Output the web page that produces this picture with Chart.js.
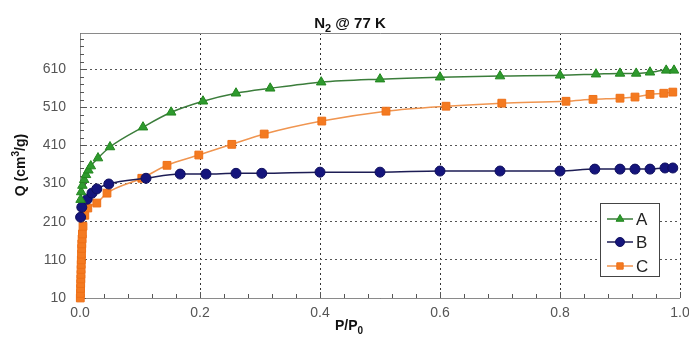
<!DOCTYPE html>
<html>
<head>
<meta charset="utf-8">
<script src="https://cdn.jsdelivr.net/npm/chart.js@4/dist/chart.umd.min.js"></script>
<style>
html,body{margin:0;padding:0;background:#fff;}
#wrap{width:689px;height:338px;position:relative;}
</style>
</head>
<body>
<div id="wrap"><canvas id="c" width="689" height="338"></canvas></div>
<script>
// ---- data ----
const seriesLabels = ['A', 'B', 'C'];
const pressureA = [0.001,0.002,0.004,0.007,0.010,0.014,0.018,0.030,0.050,0.105,0.152,0.205,0.260,0.317,0.402,0.500,0.600,0.700,0.800,0.860,0.900,0.927,0.950,0.977,0.990];
const uptakeA   = [268,288,305,320,333,345,356,377,406,458,497,526,547,560,576,584,589,592,594,597,599,599,602,607,607];
const pressureB = [0.001,0.003,0.012,0.020,0.028,0.048,0.110,0.167,0.210,0.260,0.303,0.400,0.500,0.600,0.700,0.800,0.858,0.900,0.925,0.950,0.975,0.988];
const uptakeB   = [222,248,269,285,296,309,324,335,335,337,337,340,340,343,343,343,348,348,348,348,351,351];
const pressureC = [0.0005,0.0008,0.001,0.0012,0.0014,0.0016,0.0018,0.002,0.0022,0.0025,0.0028,0.003,0.0035,0.004,0.005,0.008,0.013,0.028,0.045,0.103,0.145,0.198,0.253,0.307,0.403,0.510,0.610,0.703,0.810,0.855,0.900,0.925,0.950,0.973,0.988];
const uptakeC   = [10,22,35,48,60,72,85,98,110,125,140,152,165,178,198,227,246,259,285,324,358,385,413,440,474,500,513,521,526,531,534,537,544,547,550];
const xTickValues = [0, 0.2, 0.4, 0.6, 0.8, 1.0];
const yTickValues = [10, 110, 210, 310, 410, 510, 610];

const toPts = (xs, ys) => xs.map((v, i) => ({x: v, y: ys[i]}));

const styles = [
  {line:'#3b7d3b', fill:'#2e9a2e', edge:'#23861f', shape:'triangle', r:5.5},
  {line:'#1d1d55', fill:'#15157c', edge:'#10105e', shape:'circle', r:5},
  {line:'#f09550', fill:'#f47a20', edge:'#ee7018', shape:'rect', r:5.5}
];
const seriesData = [toPts(pressureA, uptakeA), toPts(pressureB, uptakeB), toPts(pressureC, uptakeC)];

const datasets = seriesLabels.map((lab, i) => ({
  label: lab,
  data: seriesData[i],
  borderColor: styles[i].line,
  borderWidth: 1.5,
  pointStyle: styles[i].shape,
  pointRadius: styles[i].r,
  pointBackgroundColor: styles[i].fill,
  pointBorderColor: styles[i].edge,
  pointBorderWidth: 1,
  cubicInterpolationMode: 'monotone',
  clip: 8,
  fill: false
}));

function drawRich(ctx, parts, cx, baseline, size) {
  let total = 0;
  const ws = parts.map(p => {
    const fs = p[1] === 'n' ? size : Math.round(size * 0.72);
    ctx.font = 'bold ' + fs + 'px "Liberation Sans", Arial, sans-serif';
    const w = ctx.measureText(p[0]).width;
    total += w;
    return {w, fs};
  });
  let x = cx - total / 2;
  ctx.textAlign = 'left';
  ctx.textBaseline = 'alphabetic';
  parts.forEach((p, i) => {
    ctx.font = 'bold ' + ws[i].fs + 'px "Liberation Sans", Arial, sans-serif';
    let dy = 0;
    if (p[1] === 'sub') dy = size * 0.28;
    if (p[1] === 'sup') dy = -size * 0.4;
    ctx.fillText(p[0], x, baseline + dy);
    x += ws[i].w;
  });
}

const decor = {
  id: 'decor',
  beforeDatasetsDraw(chart) {
    const {ctx, chartArea: a, scales: {x, y}} = chart;
    ctx.save();
    ctx.strokeStyle = '#8a8a8a';
    ctx.lineWidth = 1;
    ctx.beginPath();
    ctx.moveTo(a.right, a.top + 0.5); ctx.lineTo(a.left + 0.5, a.top + 0.5);
    ctx.lineTo(a.left + 0.5, a.bottom + 0.5); ctx.lineTo(a.right, a.bottom + 0.5);
    ctx.stroke();
    ctx.strokeStyle = '#555';
    ctx.beginPath();
    for (let k = 0; k <= 25; k++) {
      const v = k * 0.04;
      const px = Math.round(x.getPixelForValue(v)) + 0.5;
      const len = (k % 5 === 0) ? 6 : 4;
      ctx.moveTo(px, a.bottom); ctx.lineTo(px, a.bottom - len);
    }
    for (let k = 0; k <= 34; k++) {
      const v = 10 + k * 20;
      const py = Math.round(y.getPixelForValue(v)) + 0.5;
      if (py < a.top) break;
      const len = (k % 5 === 0) ? 6 : 4;
      ctx.moveTo(a.left, py); ctx.lineTo(a.left + len, py);
    }
    ctx.stroke();
    ctx.restore();
  },
  afterDatasetsDraw(chart) {
    const {ctx} = chart;
    ctx.save();
    const bx = 600.5, by = 203.5, bw = 59, bh = 73;
    ctx.fillStyle = '#fff';
    ctx.fillRect(bx, by, bw, bh);
    ctx.strokeStyle = '#444';
    ctx.lineWidth = 1;
    ctx.strokeRect(bx, by, bw, bh);
    const rows = [219, 242, 266];
    chart.data.datasets.forEach((ds, i) => {
      const yy = rows[i];
      ctx.strokeStyle = ds.borderColor;
      ctx.lineWidth = 1.5;
      ctx.beginPath(); ctx.moveTo(607, yy); ctx.lineTo(633, yy); ctx.stroke();
      ctx.fillStyle = ds.pointBackgroundColor;
      ctx.strokeStyle = ds.pointBorderColor;
      ctx.lineWidth = 1;
      Chart.helpers.drawPoint(ctx, {pointStyle: ds.pointStyle, radius: 4.5, borderWidth: 1, rotation: 0}, 620, yy);
      ctx.fillStyle = '#222';
      ctx.font = '17px "Liberation Sans", Arial, sans-serif';
      ctx.textAlign = 'left';
      ctx.textBaseline = 'middle';
      ctx.fillText(ds.label, 636, yy + 1);
    });
    ctx.restore();
  },
  afterDraw(chart) {
    const {ctx} = chart;
    ctx.save();
    ctx.fillStyle = '#111';
    drawRich(ctx, [['N','n'],['2','sub'],[' @ 77 K','n']], 350, 28, 15);
    drawRich(ctx, [['P/P','n'],['0','sub']], 349, 330, 14);
    ctx.translate(25, 165);
    ctx.rotate(-Math.PI / 2);
    drawRich(ctx, [['Q (cm','n'],['3','sup'],['/g)','n']], 0, 0, 14);
    ctx.restore();
  }
};

new Chart(document.getElementById('c'), {
  type: 'line',
  data: {datasets},
  plugins: [decor],
  options: {
    responsive: false,
    animation: false,
    devicePixelRatio: 1,
    layout: {padding: {top: 33, right: 9, left: 0, bottom: 0}},
    plugins: {legend: {display: false}, title: {display: false}, tooltip: {enabled: false}},
    scales: {
      x: {
        type: 'linear',
        min: 0, max: 1,
        afterBuildTicks: s => { s.ticks = xTickValues.map(v => ({value: v})); },
        afterFit: s => { s.height = 40; s.paddingLeft = 0; s.paddingRight = 0; },
        ticks: {
          padding: 7,
          color: '#555',
          font: {family: '"Liberation Sans", Arial, sans-serif', size: 14},
          callback: v => Number(v).toFixed(1),
          maxRotation: 0
        },
        grid: {color: '#333', lineWidth: 1, drawTicks: false},
        border: {display: false, dash: [2, 3]}
      },
      y: {
        type: 'linear',
        min: 10, max: 705,
        afterBuildTicks: s => { s.ticks = yTickValues.map(v => ({value: v})); },
        afterFit: s => { s.width = 80; s.paddingTop = 0; s.paddingBottom = 0; },
        ticks: {
          padding: 14,
          color: '#555',
          font: {family: '"Liberation Sans", Arial, sans-serif', size: 14},
          callback: v => String(v)
        },
        grid: {color: '#555', lineWidth: 1, drawTicks: false},
        border: {display: false, dash: [2, 3]}
      }
    }
  }
});
</script>
</body>
</html>
